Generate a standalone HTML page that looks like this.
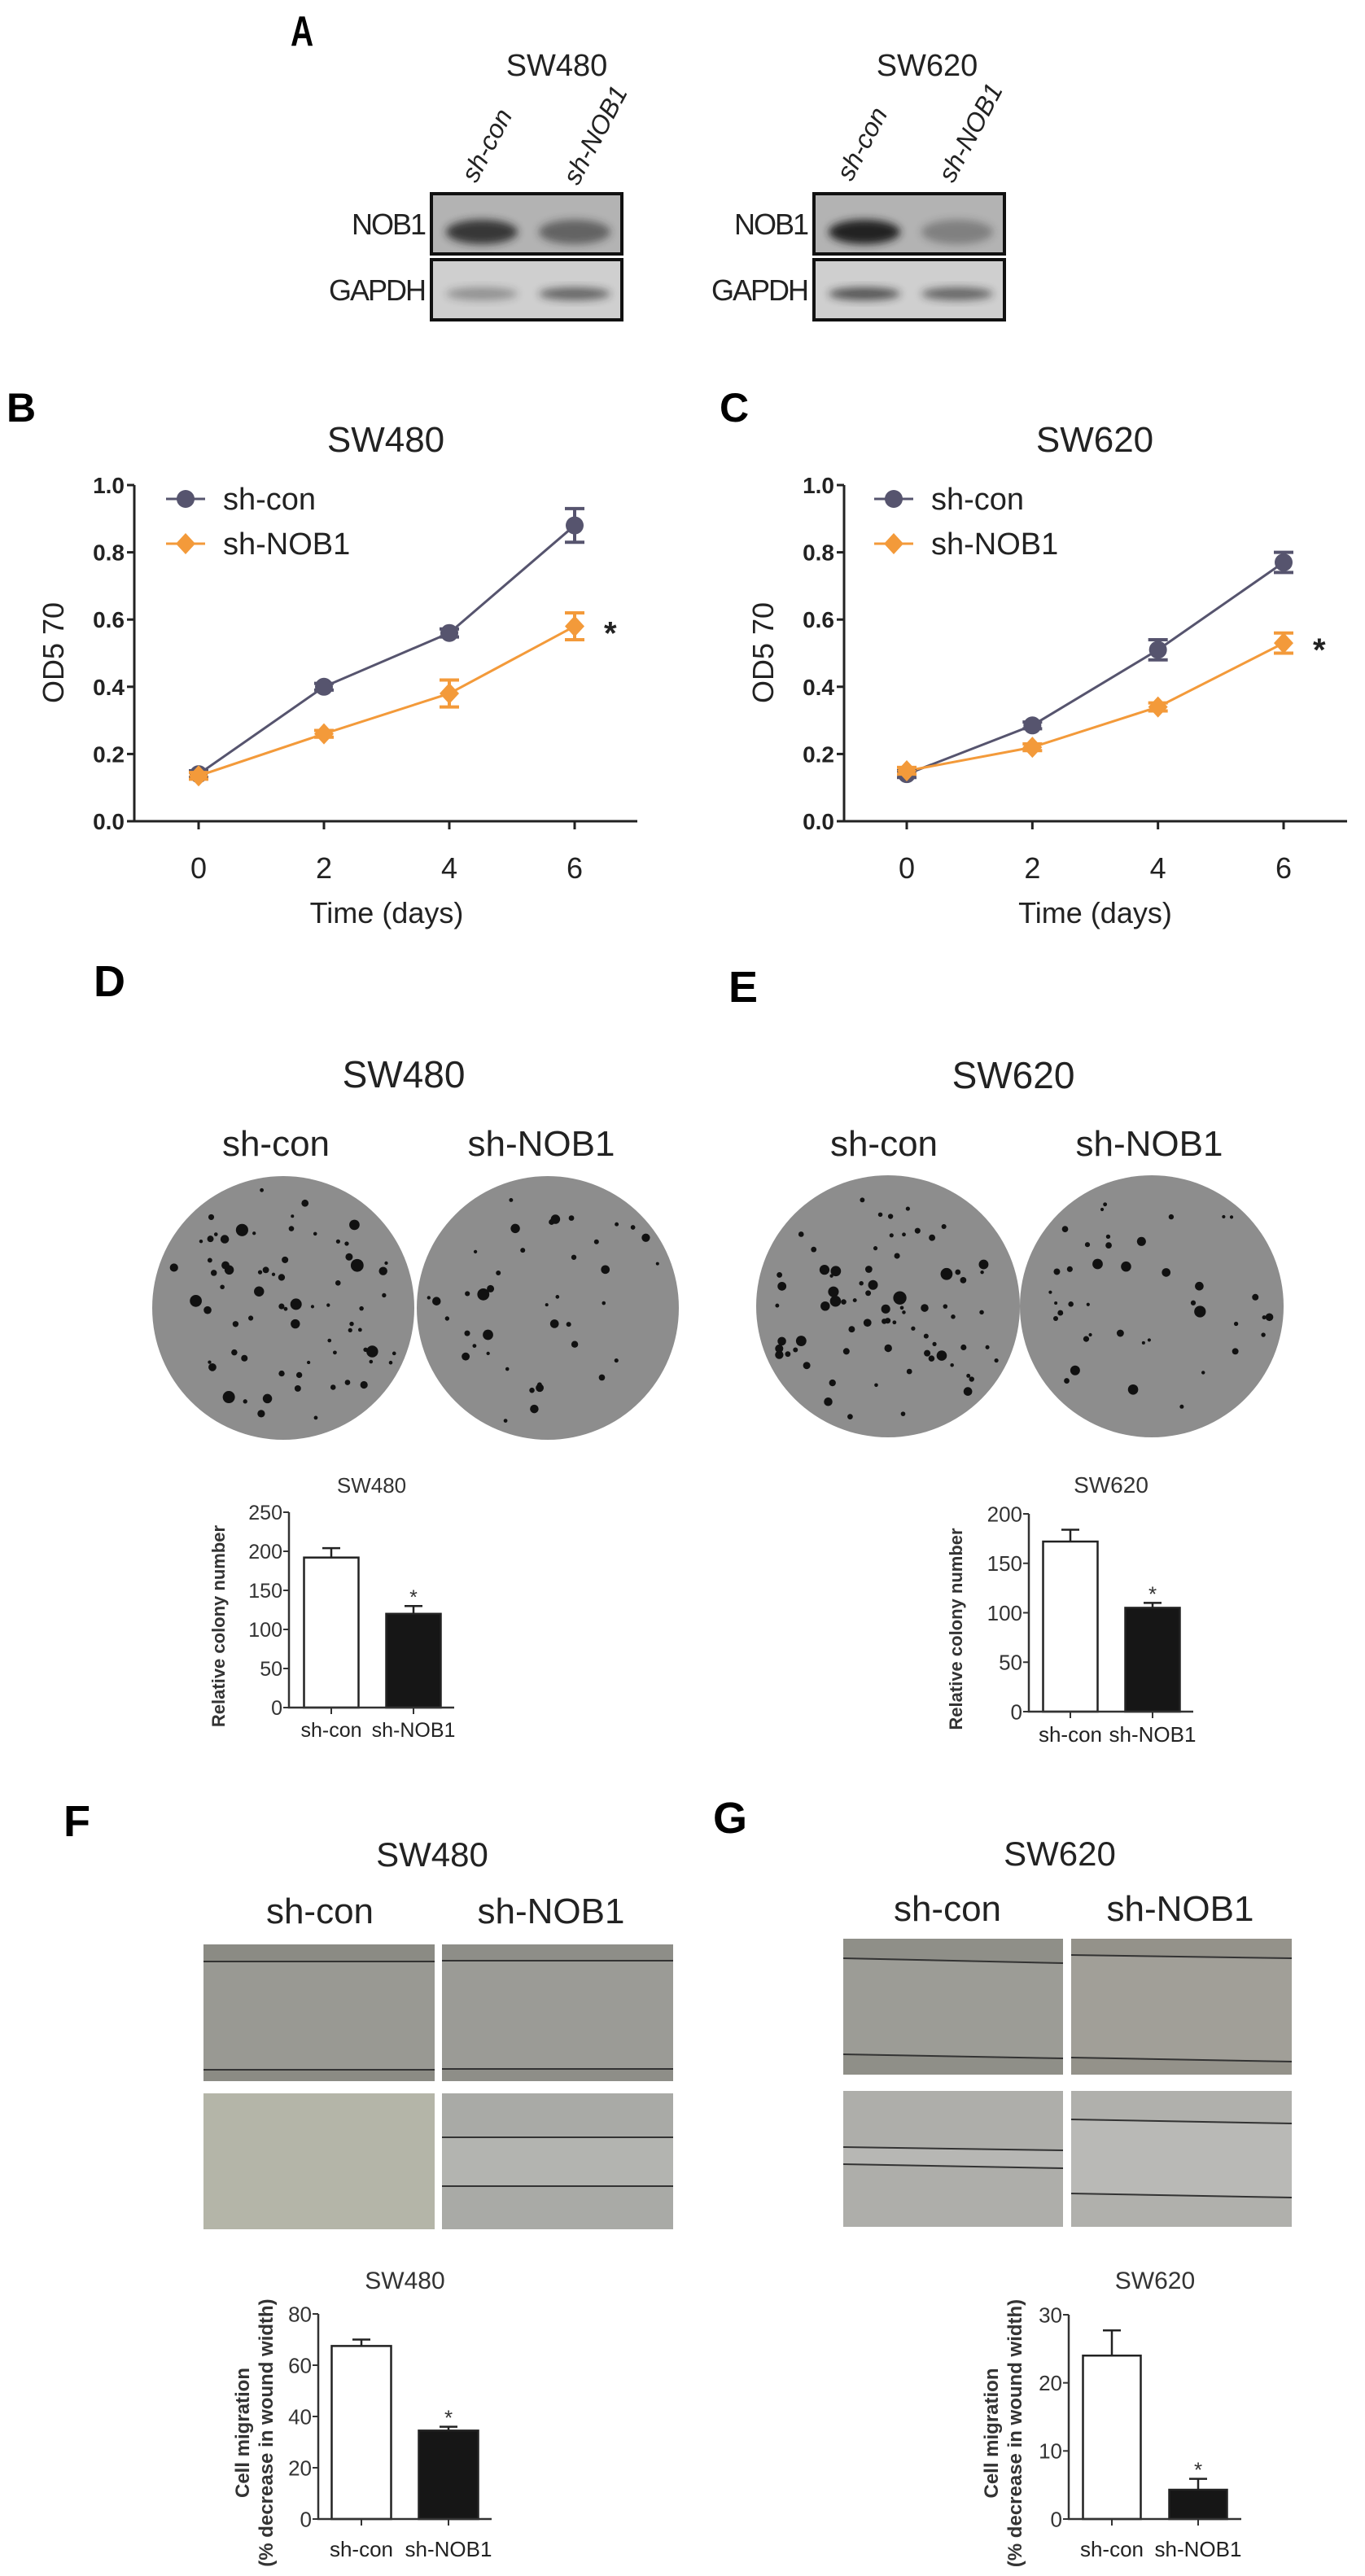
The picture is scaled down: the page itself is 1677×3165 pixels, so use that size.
<!DOCTYPE html>
<html><head><meta charset="utf-8"><style>
html,body{margin:0;padding:0;background:#fff;}
svg{display:block;font-family:"Liberation Sans",sans-serif;}
</style></head><body>
<svg id="fig" width="1677" height="3165" viewBox="0 0 1677 3165" xmlns="http://www.w3.org/2000/svg">
<defs>
<filter id="blur4" x="-20%" y="-50%" width="140%" height="200%"><feGaussianBlur stdDeviation="5"/></filter>
<filter id="blur1"><feGaussianBlur stdDeviation="1"/></filter>
</defs>
<rect width="1677" height="3165" fill="#fff"/>
<!-- Panel A -->
<g>
<text x="357" y="56" font-size="52" font-weight="bold" transform="translate(357,0) scale(0.75,1) translate(-357,0)">A</text>
<text x="684" y="93" font-size="38" text-anchor="middle" fill="#222">SW480</text>
<text x="1139" y="93" font-size="38" text-anchor="middle" fill="#222">SW620</text>
<text x="0" y="0" font-size="32" font-style="italic" fill="#222" transform="translate(585,226) rotate(-62)">sh-con</text>
<text x="0" y="0" font-size="32" font-style="italic" fill="#222" transform="translate(710,229) rotate(-62)">sh-NOB1</text>
<text x="0" y="0" font-size="32" font-style="italic" fill="#222" transform="translate(1046,224) rotate(-62)">sh-con</text>
<text x="0" y="0" font-size="32" font-style="italic" fill="#222" transform="translate(1171,226) rotate(-62)">sh-NOB1</text>
<g id="blots"></g>
</g>
<g id="chartB"></g>
<g id="chartC"></g>
<g id="panelD"></g>
<g id="panelE"></g>
<g id="panelF"></g>
<g id="panelG"></g>
</svg>
<script>
// ---- growth chart data (B, C)
const days = [0, 2, 4, 6];
const yTicksOD = ["0.0", "0.2", "0.4", "0.6", "0.8", "1.0"];
const bCon = [0.14, 0.40, 0.56, 0.88];
const bConErr = [0.01, 0.01, 0.012, 0.05];
const bNob = [0.135, 0.26, 0.38, 0.58];
const bNobErr = [0.01, 0.01, 0.04, 0.04];
const cCon = [0.14, 0.285, 0.51, 0.77];
const cConErr = [0.01, 0.01, 0.03, 0.03];
const cNob = [0.15, 0.22, 0.34, 0.53];
const cNobErr = [0.01, 0.01, 0.012, 0.03];
// ---- bar chart data (D, E, F, G)
const groups = ["sh-con", "sh-NOB1"];
const dVals = [192, 120];
const dErr = [12, 10];
const dTicks = [0, 50, 100, 150, 200, 250];
const eVals = [172, 105];
const eErr = [12, 5];
const eTicks = [0, 50, 100, 150, 200];
const fVals = [67.5, 34.5];
const fErr = [2.5, 1.5];
const fTicks = [0, 20, 40, 60, 80];
const gVals = [24, 4.3];
const gErr = [3.7, 1.6];
const gTicks = [0, 10, 20, 30];

const NS = "http://www.w3.org/2000/svg";
function mk(parent, tag, attrs, txt) {
  const e = document.createElementNS(NS, tag);
  for (const k in attrs) e.setAttribute(k, attrs[k]);
  if (txt !== undefined) e.textContent = txt;
  parent.appendChild(e);
  return e;
}

// ---- Western blots
(function () {
  const g = document.getElementById('blots');
  const sets = [
    { x: 530, lab: 427, nob: [0.85, 0.55], gap: [0.35, 0.6] },
    { x: 1000, lab: 893, nob: [1.0, 0.35], gap: [0.7, 0.6] }
  ];
  sets.forEach((s, si) => {
    [[238, 312, '#b3b3b3', s.nob, 'NOB1', 'nob1'], [319, 393, '#cfcfcf', s.gap, 'GAPDH', 'gapdh']].forEach(r => {
      const box = mk(g, 'rect', { x: s.x, y: r[0], width: 234, height: r[1] - r[0], fill: r[2], stroke: '#111', 'stroke-width': 4 });
      
      
      const cy = r[5] === 'nob1' ? r[0] + 47 : r[0] + 42;
      [0, 1].forEach(li => {
        const band = mk(g, 'ellipse', { cx: s.x + 62 + li * 114, cy: cy, rx: 44, ry: r[5] === 'nob1' ? 15 : 8, fill: '#222', opacity: r[3][li], filter: 'url(#blur4)' });
        
        
      });
      const t = mk(g, 'text', { x: s.x - 8, y: (r[0] + r[1]) / 2 + 13, 'font-size': 36, 'text-anchor': 'end', fill: '#222', 'letter-spacing': '-2' }, r[4]);
      
      
    });
  });
})();

// ---- line charts
function lineChart(id, o) {
  const g = document.getElementById(id);
  const xs = v => o.x0 + (v - 0) * (o.x6 - o.x0) / 6;
  const ys = v => o.yb - v * (o.yb - o.yt);
  const L = mk(g, 'text', { x: o.lx, y: 518, 'font-size': 50, 'font-weight': 'bold' }, o.letter);
   
  const T = mk(g, 'text', { x: o.tx, y: 555, 'font-size': 44, 'text-anchor': 'middle', fill: '#222' }, o.title);
   
  const ax = mk(g, 'path', { d: `M${o.ax},${o.yt} V${o.yb} H${o.xe}`, fill: 'none', stroke: '#222', 'stroke-width': 3 });
   
  yTicksOD.forEach((lab, i) => {
    const y = ys(parseFloat(lab));
    mk(g, 'line', { x1: o.ax - 9, x2: o.ax, y1: y, y2: y, stroke: '#222', 'stroke-width': 3 });
    const t = mk(g, 'text', { x: o.ax - 12, y: y + 10, 'font-size': 28, 'font-weight': 'bold', 'text-anchor': 'end', fill: '#222' }, lab);
     
  });
  days.forEach(d => {
    const x = xs(d);
    mk(g, 'line', { x1: x, x2: x, y1: o.yb, y2: o.yb + 10, stroke: '#222', 'stroke-width': 3 });
    const t = mk(g, 'text', { x: x, y: 1079, 'font-size': 36, 'text-anchor': 'middle', fill: '#222' }, String(d));
     
  });
  const xt = mk(g, 'text', { x: (o.x0 + o.x6) / 2, y: 1134, 'font-size': 36, 'text-anchor': 'middle', fill: '#222' }, 'Time (days)');
   
  const yt = mk(g, 'text', { x: 0, y: 0, 'font-size': 36, 'text-anchor': 'middle', fill: '#222', transform: `translate(${o.ylx},802) rotate(-90)` }, 'OD5 70');
   
  const series = [[o.con, o.conErr, '#56546e', 'circle', 'sh-con'], [o.nob, o.nobErr, '#f39a3a', 'diamond', 'sh-NOB1']];
  series.forEach(s => {
    const pts = days.map((d, i) => xs(d) + ',' + ys(s[0][i])).join(' ');
    const pl = mk(g, 'polyline', { points: pts, fill: 'none', stroke: s[2], 'stroke-width': 3 });
     
  });
  series.forEach(s => {
    days.forEach((d, i) => {
      const x = xs(d), y = ys(s[0][i]), e = s[1][i];
      const eb = mk(g, 'path', { d: `M${x},${ys(s[0][i] + e)} V${ys(s[0][i] - e)} M${x - 12},${ys(s[0][i] + e)} h24 M${x - 12},${ys(s[0][i] - e)} h24`, stroke: s[2], 'stroke-width': 4, fill: 'none' });
       
      let m;
      if (s[3] === 'circle') m = mk(g, 'circle', { cx: x, cy: y, r: 11, fill: s[2] });
      else m = mk(g, 'path', { d: `M${x},${y - 13} L${x + 12},${y} L${x},${y + 13} L${x - 12},${y} Z`, fill: s[2] });
       
    });
  });
  const st = mk(g, 'text', { x: xs(6) + 36, y: ys(o.nob[3]) + 22, 'font-size': 40, 'font-weight': 'bold', fill: '#222' }, '*');
   
  series.forEach((s, i) => {
    const ly = 613 + i * 55, mx = o.lgx;
    mk(g, 'line', { x1: mx - 24, x2: mx + 24, y1: ly, y2: ly, stroke: s[2], 'stroke-width': 3 });
    let m;
    if (s[3] === 'circle') m = mk(g, 'circle', { cx: mx, cy: ly, r: 11, fill: s[2] });
    else m = mk(g, 'path', { d: `M${mx},${ly - 13} L${mx + 12},${ly} L${mx},${ly + 13} L${mx - 12},${ly} Z`, fill: s[2] });
     
    const t = mk(g, 'text', { x: mx + 46, y: ly + 13, 'font-size': 38, fill: '#222' }, s[4]);
     
  });
}
lineChart('chartB', { letter: 'B', lx: 8, tx: 474, title: 'SW480', ax: 165, x0: 244, x6: 706, xe: 783, yt: 596, yb: 1009, ylx: 78, lgx: 228, con: bCon, conErr: bConErr, nob: bNob, nobErr: bNobErr });
lineChart('chartC', { letter: 'C', lx: 884, tx: 1345, title: 'SW620', ax: 1037, x0: 1114, x6: 1577, xe: 1655, yt: 596, yb: 1009, ylx: 950, lgx: 1098, con: cCon, conErr: cConErr, nob: cNob, nobErr: cNobErr });

// ---- bar charts
function barChart(g, o) {
  const ys = v => o.y0 - v * (o.y0 - o.yTop) / o.ticks[o.ticks.length - 1];
  const T = mk(g, 'text', { x: (o.ax + o.xe) / 2, y: o.ty, 'font-size': o.tfs, 'text-anchor': 'middle', fill: '#333' }, o.title);
   
  o.ticks.forEach(t => {
    const y = ys(t);
    mk(g, 'line', { x1: o.ax - 7, x2: o.ax, y1: y, y2: y, stroke: '#333', 'stroke-width': 2 });
    const l = mk(g, 'text', { x: o.ax - 8, y: y + o.fs * 0.36, 'font-size': o.fs, 'text-anchor': 'end', fill: '#333' }, String(t));
     
  });
  groups.forEach((name, i) => {
    const cx = o.cx[i], v = o.vals[i], e = o.err[i];
    const b = mk(g, 'rect', { x: cx - o.bw / 2, y: ys(v), width: o.bw, height: o.y0 - ys(v), fill: i === 0 ? '#fff' : '#161616', stroke: '#222', 'stroke-width': 2.5 });
     
    const eb = mk(g, 'path', { d: `M${cx},${ys(v)} V${ys(v + e)} M${cx - 11},${ys(v + e)} h22`, stroke: '#222', 'stroke-width': 2.5, fill: 'none' });
     
    mk(g, 'line', { x1: cx, x2: cx, y1: o.y0, y2: o.y0 + 8, stroke: '#333', 'stroke-width': 2 });
    const l = mk(g, 'text', { x: cx, y: o.ly, 'font-size': o.fs, 'text-anchor': 'middle', fill: '#222' }, name);
     
    if (i === 1) {
      const s = mk(g, 'text', { x: cx, y: ys(v + e) - 2, 'font-size': o.fs, 'text-anchor': 'middle', fill: '#333' }, '*');
       
    }
  });
  const ax = mk(g, 'path', { d: `M${o.ax},${o.yTop} V${o.y0} H${o.xe}`, fill: 'none', stroke: '#333', 'stroke-width': 2.5 });
   
  o.ytitle.forEach((line, k) => {
    const t = mk(g, 'text', { x: 0, y: 0, 'font-size': o.yfs, 'font-weight': 'bold', 'text-anchor': 'middle', fill: '#333', transform: `translate(${o.ytx + k * o.yfs * 1.2},${(o.yTop + o.y0) / 2 + 20}) rotate(-90)` }, line);
     
  });
}

// deterministic decorative speckle generator (image texture, not data)
function lcg(seed) { let s = seed; return () => { s = (s * 1103515245 + 12345) % 2147483648; return s / 2147483648; }; }

function dish(g, cx, cy, rx, ry, n, seed, name) {
  const c = mk(g, 'ellipse', { cx: cx, cy: cy, rx: rx, ry: ry, fill: '#8d8d8d' });
   
  const r = lcg(seed);
  for (let i = 0; i < n; i++) {
    const a = r() * Math.PI * 2, d = Math.sqrt(r()) * 0.92;
    const dot = mk(g, 'circle', { cx: cx + Math.cos(a) * d * rx, cy: cy + Math.sin(a) * d * ry, r: 2 + r() * r() * 7, fill: '#111' });
     
  }
}

function letter(g, t, x, y) {
  const e = mk(g, 'text', { x: x, y: y, 'font-size': 54, 'font-weight': 'bold' }, t);
   
}
function txt(g, s, x, y, fs, name) {
  const e = mk(g, 'text', { x: x, y: y, 'font-size': fs, 'text-anchor': 'middle', fill: '#222' }, s);
   
}

// Panel D
(function () {
  const g = document.getElementById('panelD');
  letter(g, 'D', 115, 1224);
  txt(g, 'SW480', 496, 1336, 46, 'colony-title');
  txt(g, 'sh-con', 339, 1420, 44, 'group-label-sh-con');
  txt(g, 'sh-NOB1', 665, 1420, 44, 'group-label-sh-nob1');
  dish(g, 348, 1607, 161, 162, 70, 7, 'dish-sh-con');
  dish(g, 673, 1607, 161, 162, 40, 21, 'dish-sh-nob1');
  barChart(g, { title: 'SW480', ty: 1834, tfs: 26, ax: 355, xe: 558, y0: 2098, yTop: 1858, ticks: dTicks, vals: dVals, err: dErr, cx: [407, 508], bw: 67, ly: 2134, fs: 25, ytitle: ['Relative colony number'], ytx: 276, yfs: 22 });
})();
// Panel E
(function () {
  const g = document.getElementById('panelE');
  letter(g, 'E', 895, 1231);
  txt(g, 'SW620', 1245, 1337, 46, 'colony-title');
  txt(g, 'sh-con', 1086, 1420, 44, 'group-label-sh-con');
  txt(g, 'sh-NOB1', 1412, 1420, 44, 'group-label-sh-nob1');
  dish(g, 1091, 1605, 162, 161, 75, 3, 'dish-sh-con');
  dish(g, 1415, 1605, 162, 161, 40, 11, 'dish-sh-nob1');
  barChart(g, { title: 'SW620', ty: 1834, tfs: 28, ax: 1264, xe: 1466, y0: 2103, yTop: 1860, ticks: eTicks, vals: eVals, err: eErr, cx: [1315, 1416], bw: 67, ly: 2140, fs: 26, ytitle: ['Relative colony number'], ytx: 1182, yfs: 22 });
})();

function wound(g, x, y, w, h, fill, l1, l2, name) {
  const r = mk(g, 'rect', { x: x, y: y, width: w, height: h, fill: fill });
   
  if (l1) {
    const gap = mk(g, 'path', { d: `M${x},${l1[0]} L${x + w},${l1[1]} L${x + w},${l2[1]} L${x},${l2[0]} Z`, fill: 'rgba(255,255,255,0.12)' });
     
    [l1, l2].forEach(l => {
      const ln = mk(g, 'line', { x1: x, y1: l[0], x2: x + w, y2: l[1], stroke: '#333', 'stroke-width': 2 });
       
    });
  }
}
// Panel F
(function () {
  const g = document.getElementById('panelF');
  letter(g, 'F', 78, 2256);
  txt(g, 'SW480', 531, 2293, 42, 'migration-title');
  txt(g, 'sh-con', 393, 2363, 44, 'group-label-sh-con');
  txt(g, 'sh-NOB1', 677, 2363, 44, 'group-label-sh-nob1');
  wound(g, 250, 2389, 284, 168, '#8b8b84', [2410, 2410], [2543, 2543], 'wound-image-sh-con-0h');
  wound(g, 543, 2389, 284, 168, '#8e8e88', [2409, 2409], [2542, 2542], 'wound-image-sh-nob1-0h');
  wound(g, 250, 2572, 284, 167, '#b4b5a8', null, null, 'wound-image-sh-con-48h');
  wound(g, 543, 2572, 284, 167, '#a9aaa6', [2626, 2626], [2686, 2686], 'wound-image-sh-nob1-48h');
  barChart(g, { title: 'SW480', ty: 2812, tfs: 30, ax: 391, xe: 604, y0: 3095, yTop: 2843, ticks: fTicks, vals: fVals, err: fErr, cx: [444, 551], bw: 73, ly: 3141, fs: 26, ytitle: ['Cell migration', '(% decrease in wound width)'], ytx: 306, yfs: 24 });
})();
// Panel G
(function () {
  const g = document.getElementById('panelG');
  letter(g, 'G', 876, 2252);
  txt(g, 'SW620', 1302, 2292, 42, 'migration-title');
  txt(g, 'sh-con', 1164, 2360, 44, 'group-label-sh-con');
  txt(g, 'sh-NOB1', 1450, 2360, 44, 'group-label-sh-nob1');
  wound(g, 1036, 2382, 270, 167, '#8f8f88', [2406, 2412], [2524, 2529], 'wound-image-sh-con-0h');
  wound(g, 1316, 2382, 271, 167, '#94928a', [2402, 2406], [2528, 2533], 'wound-image-sh-nob1-0h');
  wound(g, 1036, 2569, 270, 167, '#aeaeaa', [2638, 2642], [2659, 2664], 'wound-image-sh-con-48h');
  wound(g, 1316, 2569, 271, 167, '#b0b0ac', [2604, 2609], [2695, 2700], 'wound-image-sh-nob1-48h');
  barChart(g, { title: 'SW620', ty: 2812, tfs: 30, ax: 1313, xe: 1525, y0: 3095, yTop: 2844, ticks: gTicks, vals: gVals, err: gErr, cx: [1366, 1472], bw: 71, ly: 3141, fs: 26, ytitle: ['Cell migration', '(% decrease in wound width)'], ytx: 1226, yfs: 24 });
})();
</script>
</body></html>
